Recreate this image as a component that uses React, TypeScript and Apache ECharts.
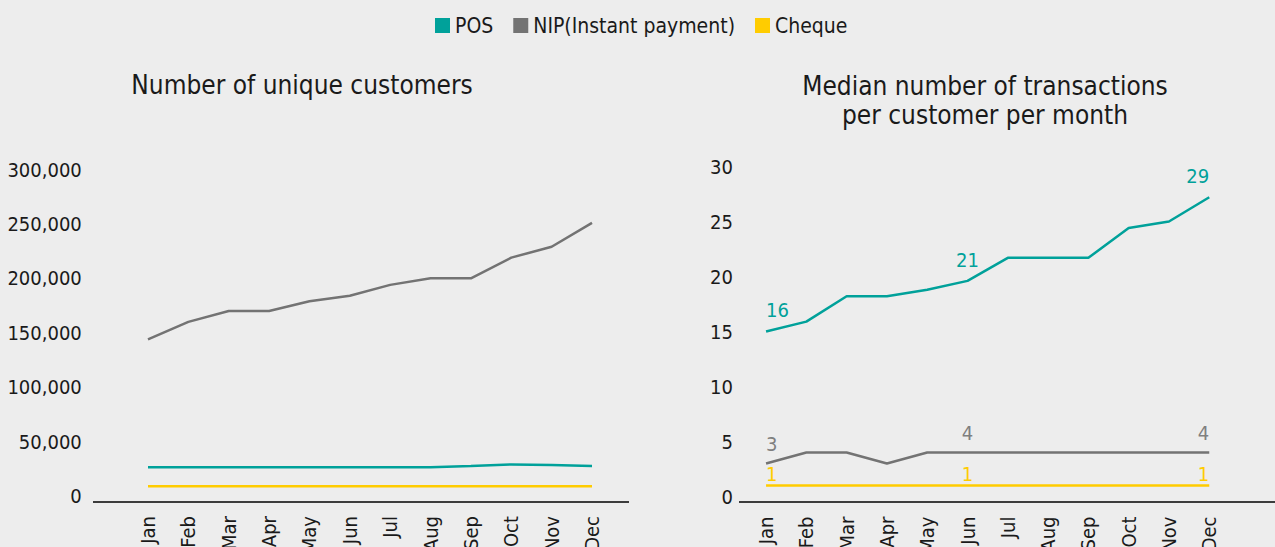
import React, { useEffect, useRef } from "react";
import * as echarts from "echarts";

const months = ["Jan", "Feb", "Mar", "Apr", "May", "Jun", "Jul", "Aug", "Sep", "Oct", "Nov", "Dec"];
const seriesNames = ["POS", "NIP(Instant payment)", "Cheque"];

// Left chart: number of unique customers
const customersPOS = [26500, 26500, 26500, 26500, 26500, 26500, 26500, 26500, 27500, 29000, 28500, 27500];
const customersNIP = [144000, 160000, 170000, 170000, 179000, 184000, 194000, 200000, 200000, 219000, 229000, 251000];
const customersCheque = [9000, 9000, 9000, 9000, 9000, 9000, 9000, 9000, 9000, 9000, 9000, 9000];

// Right chart: median number of transactions per customer per month
const txPOS = [15.0, 15.9, 18.2, 18.2, 18.8, 19.6, 21.7, 21.7, 21.7, 24.4, 25.0, 27.2];
const txNIP = [3, 4, 4, 3, 4, 4, 4, 4, 4, 4, 4, 4];
const txCheque = [1, 1, 1, 1, 1, 1, 1, 1, 1, 1, 1, 1];

// Data label texts shown on the right chart
const txPOSLabels = ["16", "", "", "", "", "21", "", "", "", "", "", "29"];
const txNIPLabels = ["3", "", "", "", "", "4", "", "", "", "", "", "4"];
const txChequeLabels = ["1", "", "", "", "", "1", "", "", "", "", "", "1"];

const leftTicks = { min: 0, max: 300000, interval: 50000 };
const rightTicks = { min: 0, max: 30, interval: 5 };

const COLORS = ["#00A19A", "#737373", "#FFCC00"];
const LABEL_COLORS = ["#00A19A", "#7F7F7F", "#FFCC00"];
const FONT = "'DejaVu Sans Condensed', 'DejaVu Sans', sans-serif";
const TEXT = "#1A1A1A";

export default function App() {
  const ref = useRef<HTMLDivElement>(null);

  useEffect(() => {
    if (!ref.current) return;
    const chart = echarts.init(ref.current, undefined, { renderer: "svg" });

    const lineBase = (name: string, idx: number, grid: number, values: number[]) => ({
      type: "line",
      name,
      xAxisIndex: grid,
      yAxisIndex: grid,
      symbol: "circle",
      symbolSize: 0.01,
      color: COLORS[idx],
      lineStyle: { width: 2.5, color: COLORS[idx] },
      data: values,
    });

    const labelled = (
      name: string,
      idx: number,
      values: number[],
      labels: string[],
      distance: number
    ) => ({
      ...lineBase(name, idx, 1, values),
      data: values.map((v, i) => ({
        value: v,
        label: {
          show: labels[i] !== "",
          align: i === 0 ? "left" : i === values.length - 1 ? "right" : "center",
        },
      })),
      label: {
        show: true,
        position: "top",
        distance,
        color: LABEL_COLORS[idx],
        fontSize: 20,
        fontFamily: FONT,
        formatter: (p: any) => labels[p.dataIndex],
      },
    });

    const yAxisCommon = {
      type: "value",
      axisLine: { show: false },
      axisTick: { show: false },
      splitLine: { show: false },
    };

    const xAxisCommon = {
      type: "category",
      data: months,
      boundaryGap: true,
      axisLine: { show: false },
      axisTick: { show: false },
      axisLabel: { rotate: 90, margin: 20, fontSize: 20, color: TEXT, fontFamily: FONT },
    };

    chart.setOption({
      animation: false,
      backgroundColor: "#EDEDED",
      textStyle: { fontFamily: FONT },
      legend: {
        left: 430,
        top: 10,
        icon: "rect",
        itemWidth: 15,
        itemHeight: 15,
        itemGap: 20,
        selectedMode: false,
        data: seriesNames,
        textStyle: { fontSize: 21, color: TEXT, fontFamily: FONT },
      },
      grid: [
        { left: 127.8, width: 484.4, top: 169.5, height: 326.5, outerBoundsMode: "none", containLabel: false },
        { left: 745.9, width: 483.5, top: 166.5, height: 330, outerBoundsMode: "none", containLabel: false },
      ],
      xAxis: [
        { ...xAxisCommon, gridIndex: 0 },
        { ...xAxisCommon, gridIndex: 1 },
      ],
      yAxis: [
        {
          ...yAxisCommon,
          gridIndex: 0,
          ...leftTicks,
          axisLabel: {
            margin: 46,
            fontSize: 20,
            color: TEXT,
            fontFamily: FONT,
            formatter: (v: number) => v.toLocaleString("en-US"),
          },
        },
        {
          ...yAxisCommon,
          gridIndex: 1,
          ...rightTicks,
          axisLabel: { margin: 13, fontSize: 20, color: TEXT, fontFamily: FONT },
        },
      ],
      graphic: [
        {
          type: "text",
          x: 302,
          y: 85,
          style: {
            text: "Number of unique customers",
            fontSize: 26,
            fontFamily: FONT,
            fill: TEXT,
            align: "center",
            verticalAlign: "middle",
          },
        },
        {
          type: "text",
          x: 985,
          y: 100.5,
          style: {
            text: "Median number of transactions\nper customer per month",
            fontSize: 26,
            lineHeight: 29,
            fontFamily: FONT,
            fill: TEXT,
            align: "center",
            verticalAlign: "middle",
          },
        },
        {
          type: "line",
          shape: { x1: 93, y1: 502, x2: 629, y2: 502 },
          style: { stroke: "#000000", lineWidth: 1.5 },
        },
        {
          type: "line",
          shape: { x1: 739, y1: 502, x2: 1275, y2: 502 },
          style: { stroke: "#000000", lineWidth: 1.5 },
        },
      ],
      series: [
        lineBase(seriesNames[0], 0, 0, customersPOS),
        lineBase(seriesNames[1], 1, 0, customersNIP),
        lineBase(seriesNames[2], 2, 0, customersCheque),
        labelled(seriesNames[0], 0, txPOS, txPOSLabels, 11),
        labelled(seriesNames[1], 1, txNIP, txNIPLabels, 9),
        labelled(seriesNames[2], 2, txCheque, txChequeLabels, 1),
      ],
    });

    return () => chart.dispose();
  }, []);

  return (
    <div
      ref={ref}
      style={{ position: "fixed", left: 0, top: 0, width: 1275, height: 547 }}
    />
  );
}
